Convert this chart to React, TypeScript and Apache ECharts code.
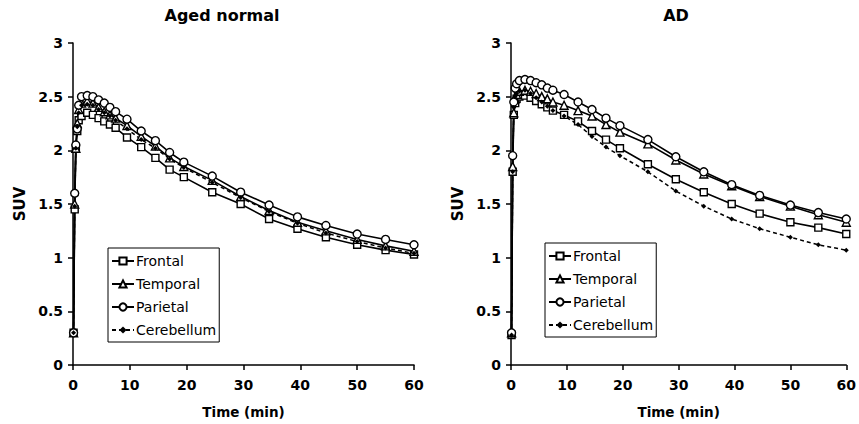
import React, { useEffect, useRef } from "react";
import * as echarts from "echarts";

const times = [0.1, 0.3, 0.5, 0.75, 1, 1.5, 2.5, 3.5, 4.5, 5.5, 6.5, 7.5, 9.5, 12, 14.5, 17, 19.5, 24.5, 29.5, 34.5, 39.5, 44.5, 50, 55, 60];

const seriesNames = ["Frontal", "Temporal", "Parietal", "Cerebellum"];

// Aged normal
const normalFrontal = [0.3, 1.45, 2.02, 2.18, 2.28, 2.32, 2.35, 2.33, 2.3, 2.27, 2.24, 2.21, 2.12, 2.03, 1.93, 1.82, 1.75, 1.61, 1.5, 1.36, 1.27, 1.19, 1.12, 1.07, 1.03];
const normalTemporal = [0.3, 1.5, 2.02, 2.25, 2.38, 2.44, 2.46, 2.44, 2.4, 2.36, 2.33, 2.3, 2.23, 2.13, 2.04, 1.93, 1.85, 1.72, 1.57, 1.44, 1.33, 1.25, 1.17, 1.11, 1.06];
const normalParietal = [0.3, 1.6, 2.05, 2.2, 2.42, 2.5, 2.51, 2.5, 2.47, 2.44, 2.4, 2.36, 2.29, 2.18, 2.09, 1.98, 1.89, 1.76, 1.61, 1.49, 1.38, 1.3, 1.22, 1.17, 1.12];
const normalCerebellum = [0.3, 1.48, 2.02, 2.22, 2.35, 2.42, 2.43, 2.42, 2.38, 2.35, 2.32, 2.28, 2.2, 2.1, 2.02, 1.92, 1.84, 1.7, 1.56, 1.43, 1.32, 1.23, 1.15, 1.09, 1.04];

// AD
const adFrontal = [0.28, 1.8, 2.33, 2.44, 2.48, 2.5, 2.51, 2.49, 2.46, 2.43, 2.4, 2.37, 2.33, 2.27, 2.18, 2.1, 2.02, 1.87, 1.73, 1.61, 1.5, 1.41, 1.33, 1.28, 1.22];
const adTemporal = [0.3, 1.85, 2.35, 2.48, 2.52, 2.55, 2.56, 2.55, 2.53, 2.5, 2.48, 2.45, 2.42, 2.37, 2.32, 2.24, 2.17, 2.06, 1.91, 1.78, 1.67, 1.57, 1.48, 1.4, 1.33];
const adParietal = [0.3, 1.95, 2.45, 2.58, 2.62, 2.65, 2.66, 2.65, 2.63, 2.61, 2.58, 2.56, 2.52, 2.45, 2.38, 2.3, 2.23, 2.1, 1.94, 1.8, 1.68, 1.58, 1.49, 1.42, 1.36];
const adCerebellum = [0.28, 1.8, 2.4, 2.5, 2.53, 2.55, 2.56, 2.53, 2.49, 2.45, 2.41, 2.37, 2.32, 2.24, 2.13, 2.03, 1.95, 1.8, 1.62, 1.48, 1.36, 1.27, 1.19, 1.12, 1.07];

const xTicks = { min: 0, max: 60, interval: 10 };
const yTicks = { min: 0, max: 3, interval: 0.5 };

const FONT = "DejaVu Sans";

const pairs = (ys: number[]) => times.map((t, i) => [t, ys[i]]);

const styleFor = (name: string) => {
  const open = { color: "#fff", borderColor: "#000", borderWidth: 1.4 };
  if (name === "Frontal") return { symbol: "rect", symbolSize: 7, itemStyle: open, lineStyle: { color: "#000", width: 1.6 } };
  if (name === "Temporal") return { symbol: "triangle", symbolSize: 8, itemStyle: open, lineStyle: { color: "#000", width: 1.6 } };
  if (name === "Parietal") return { symbol: "circle", symbolSize: 8, itemStyle: open, lineStyle: { color: "#000", width: 1.6 } };
  return { symbol: "diamond", symbolSize: 5, itemStyle: { color: "#000", borderColor: "#000", borderWidth: 0 }, lineStyle: { color: "#000", width: 1.5, type: [4, 3] } };
};

export default function App() {
  const ref = useRef<HTMLDivElement>(null);
  useEffect(() => {
    if (!ref.current) return;
    const chart = echarts.init(ref.current, null, { renderer: "svg" });
    const groups = [
      [normalFrontal, normalTemporal, normalParietal, normalCerebellum],
      [adFrontal, adTemporal, adParietal, adCerebellum],
    ];
    const grids = [
      { left: 73, top: 43, width: 341, height: 322 },
      { left: 511, top: 43, width: 341, height: 322 },
    ];
    const xAxis = grids.map((_, i) => ({
      type: "value",
      gridIndex: i,
      ...xTicks,
      name: "Time (min)",
      nameLocation: "middle",
      nameGap: 40,
      nameTextStyle: { fontFamily: FONT, fontWeight: "bold", fontSize: 13.5, color: "#000" },
      axisLine: { show: true, lineStyle: { color: "#000", width: 1.5 } },
      axisTick: { show: true, length: 5, lineStyle: { color: "#000", width: 1.5 } },
      axisLabel: { fontFamily: FONT, fontWeight: "bold", fontSize: 14, color: "#000", margin: 13 },
      splitLine: { show: false },
    }));
    const yAxis = grids.map((_, i) => ({
      type: "value",
      gridIndex: i,
      ...yTicks,
      name: "SUV",
      nameLocation: "middle",
      nameGap: 46,
      nameRotate: 90,
      nameTextStyle: { fontFamily: FONT, fontWeight: "bold", fontSize: 15, color: "#000" },
      axisLine: { show: true, lineStyle: { color: "#000", width: 1.5 } },
      axisTick: { show: true, length: 5, lineStyle: { color: "#000", width: 1.5 } },
      axisLabel: { fontFamily: FONT, fontWeight: "bold", fontSize: 14, color: "#000", margin: 10 },
      splitLine: { show: false },
    }));
    const series: any[] = [];
    groups.forEach((g, gi) => {
      g.forEach((ys, si) => {
        const name = seriesNames[si];
        series.push({
          type: "line",
          name,
          xAxisIndex: gi,
          yAxisIndex: gi,
          data: pairs(ys),
          showAllSymbol: true,
          ...styleFor(name),
        });
      });
    });
    const legendBase = {
      orient: "vertical",
      data: seriesNames,
      selectedMode: false,
      borderColor: "#000",
      borderWidth: 1,
      padding: [5, 3, 4, 3],
      itemGap: 7,
      itemWidth: 22,
      itemHeight: 9,
      textStyle: { fontFamily: FONT, fontSize: 14, color: "#000", padding: [0, 0, 0, -3], lineHeight: 16 },
    };
    chart.setOption({
      animation: false,
      backgroundColor: "#fff",
      grid: grids,
      xAxis,
      yAxis,
      legend: [
        { ...legendBase, left: 108, top: 248 },
        { ...legendBase, left: 545, top: 243 },
      ],
      graphic: [
        { type: "text", x: 222, y: 7, style: { text: "Aged normal", textAlign: "center", fontFamily: FONT, fontWeight: "bold", fontSize: 16, fill: "#000" } },
        { type: "text", x: 676, y: 7, style: { text: "AD", textAlign: "center", fontFamily: FONT, fontWeight: "bold", fontSize: 16, fill: "#000" } },
      ],
      series,
    });
    return () => chart.dispose();
  }, []);
  return (
    <div
      ref={ref}
      style={{ position: "absolute", left: 0, top: 0, width: 859, height: 424, background: "#fff" }}
    />
  );
}
